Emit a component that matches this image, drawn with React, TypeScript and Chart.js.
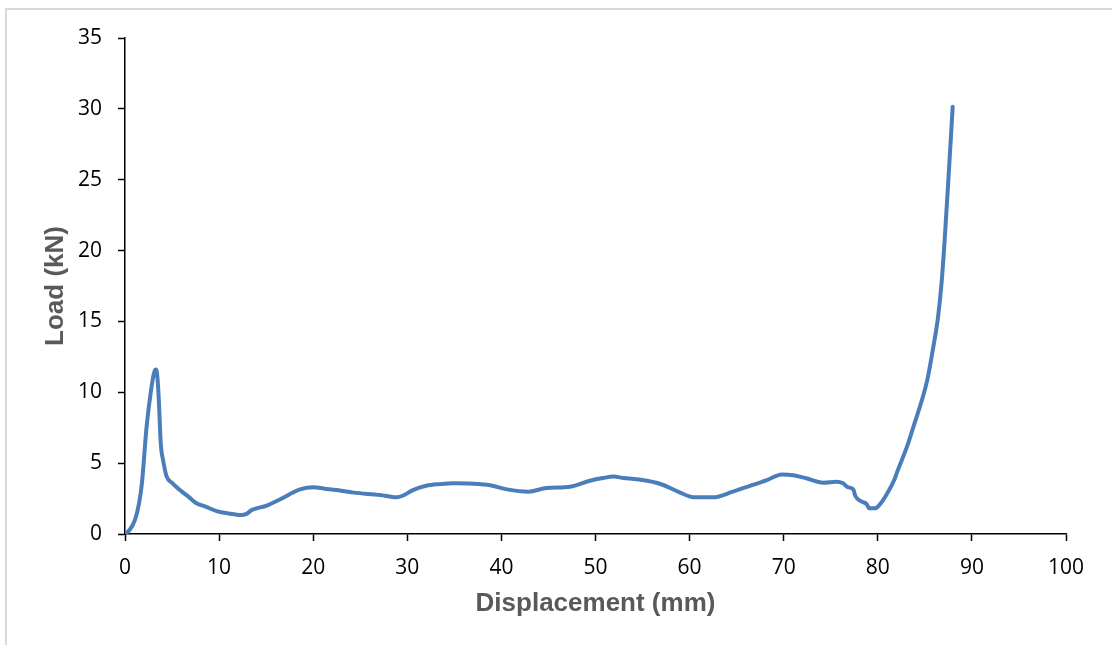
import React, { useEffect, useRef } from "react";
import { Chart, registerables } from "chart.js";

Chart.register(...registerables);

// Displacement (mm)
const displacement = [
  0, 0.5, 1.06, 1.5, 1.8, 2.3, 2.8, 3.1, 3.3, 3.45, 3.6, 3.75, 3.85, 4.05, 4.4,
  5.0, 5.84, 6.8, 7.6, 8.5, 9.74, 11.0, 12.4, 12.9, 13.5, 15.06, 16.5, 18.6,
  20.0, 21.2, 22.5, 24.3, 27.1, 28.9, 29.5, 30.6, 32.0, 33.5, 34.9, 37.0, 38.8,
  40.6, 42.9, 44.8, 47.3, 49.4, 50.8, 51.9, 53.0, 54.4, 56.9, 59.0, 60.4, 62.5,
  64.6, 66.4, 68.2, 69.8, 71.0, 72.4, 74.2, 75.6, 76.3, 76.8, 77.4, 77.6, 78.3,
  78.8, 79.1, 79.7, 80.3, 80.9, 81.8, 82.0, 83.1, 83.8, 84.8, 85.3, 85.9, 86.4,
  86.8, 87.1, 87.5, 87.96,
];

// Load (kN)
const load = [
  0, 0.3, 1.0, 2.2, 3.6, 7.6, 10.3, 11.4, 11.6, 11.0, 9.4, 7.0, 6.0, 5.2, 4.1,
  3.6, 3.1, 2.6, 2.17, 1.95, 1.62, 1.45, 1.34, 1.42, 1.7, 2.0, 2.45, 3.15,
  3.3, 3.2, 3.1, 2.92, 2.75, 2.59, 2.7, 3.1, 3.4, 3.52, 3.58, 3.55, 3.44,
  3.15, 2.99, 3.25, 3.34, 3.76, 3.95, 4.05, 3.95, 3.86, 3.53, 2.92, 2.6, 2.59,
  2.99, 3.39, 3.8, 4.2, 4.15, 3.93, 3.62, 3.69, 3.58, 3.3, 3.15, 2.7, 2.28,
  2.12, 1.81, 1.81, 2.15, 2.75, 3.9, 4.28, 6.16, 7.6, 9.7, 11.0, 13.2, 15.3,
  17.9, 20.7, 25.0, 30.15,
];

const xTickValues = [0, 10, 20, 30, 40, 50, 60, 70, 80, 90, 100];
const yTickValues = [0, 5, 10, 15, 20, 25, 30, 35];

const xTitle = "Displacement (mm)";
const yTitle = "Load (kN)";

export default function App() {
  const ref = useRef<HTMLCanvasElement>(null);

  useEffect(() => {
    const tickFont = { family: "'Open Sans', sans-serif", size: 21 };
    const titleFont = { family: "'Liberation Sans', Arial, sans-serif", size: 26, weight: "bold" as const };
    const chart = new Chart(ref.current as HTMLCanvasElement, {
      type: "scatter",
      data: {
        datasets: [
          {
            data: displacement.map((x, i) => ({ x, y: load[i] })),
            showLine: true,
            borderColor: "#4a7ebb",
            backgroundColor: "#4a7ebb",
            borderWidth: 4,
            pointRadius: 0,
            pointHoverRadius: 0,
            cubicInterpolationMode: "monotone",
            borderCapStyle: "round",
            borderJoinStyle: "round",
          },
        ],
      },
      options: {
        responsive: false,
        animation: false,
        devicePixelRatio: 1,
        layout: { padding: { top: 38, right: 46, left: 0, bottom: 0 } },
        plugins: { legend: { display: false }, tooltip: { enabled: false } },
        scales: {
          x: {
            type: "linear",
            min: 0,
            max: 100,
            afterBuildTicks: (s: any) => {
              s.ticks = xTickValues.map((v) => ({ value: v }));
            },
            ticks: { font: tickFont, color: "#000", padding: 14, maxRotation: 0 },
            grid: { drawOnChartArea: false, tickLength: 7, color: "#000", tickColor: "#000", tickWidth: 1.5 },
            border: { color: "#000", width: 1.5 },
            title: { display: true, text: xTitle, font: titleFont, color: "#595959", padding: { top: 0, bottom: 26 } },
            afterFit: (s: any) => {
              s.height = 111;
              s.paddingLeft = 0;
              s.paddingRight = 0;
            },
          },
          y: {
            type: "linear",
            min: 0,
            max: 35,
            afterBuildTicks: (s: any) => {
              s.ticks = yTickValues.map((v) => ({ value: v }));
            },
            ticks: { font: tickFont, color: "#000", padding: 16 },
            grid: { drawOnChartArea: false, tickLength: 7, color: "#000", tickColor: "#000", tickWidth: 1.5 },
            border: { color: "#000", width: 1.5 },
            title: { display: true, text: yTitle, font: titleFont, color: "#595959", padding: { top: 40, bottom: 0 } },
            afterFit: (s: any) => {
              s.width = 125;
              s.paddingTop = 0;
              s.paddingBottom = 0;
            },
          },
        },
      },
    } as any);
    return () => chart.destroy();
  }, []);

  return (
    <div style={{ position: "fixed", left: 0, top: 0, width: 1112, height: 645, overflow: "hidden", background: "#fff" }}>
      <div
        style={{
          position: "absolute",
          left: 5,
          top: 8,
          width: 1300,
          height: 900,
          border: "2px solid #d9d9d9",
          boxSizing: "border-box",
        }}
      />
      <canvas ref={ref} width={1112} height={645} style={{ position: "absolute", left: 0, top: 0, width: 1112, height: 645 }} />
    </div>
  );
}
